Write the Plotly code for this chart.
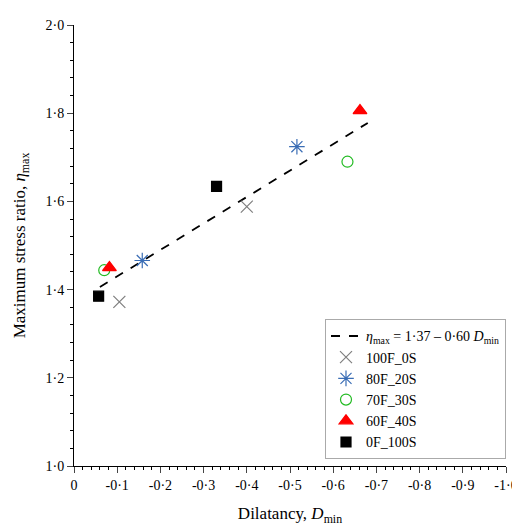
import plotly.graph_objects as go

# data
series_names = ["100F_0S", "80F_20S", "70F_30S", "60F_40S", "0F_100S"]
d_min = [[-0.105, -0.40], [-0.158, -0.516], [-0.07, -0.633], [-0.082, -0.662], [-0.057, -0.33]]
eta_max = [[1.372, 1.588], [1.466, 1.724], [1.444, 1.69], [1.45, 1.806], [1.385, 1.634]]
fit_d = [-0.06, -0.68]
fit_a, fit_b = 1.37, -0.60

symbols = ["x-thin-open", "asterisk-open", "circle-open", "triangle-up", "square"]
colors = ["#7f7f7f", "#3a6db5", "#22bb22", "#ff0000", "#000000"]
sizes = [12, 13, 11, 12, 10]

fig = go.Figure()
fig.add_trace(go.Scatter(
    x=fit_d, y=[fit_a + fit_b * d for d in fit_d], mode="lines",
    line=dict(color="black", dash="dash", width=1.8),
    name="<i>η</i><sub>max</sub> = 1·37 – 0·60 <i>D</i><sub>min</sub>"))
for name, xs, ys, sym, c, s in zip(series_names, d_min, eta_max, symbols, colors, sizes):
    fig.add_trace(go.Scatter(
        x=xs, y=ys, mode="markers", name=name,
        marker=dict(symbol=sym, color=c, size=s, line=dict(color=c, width=1.2))))

xt = [0, -0.1, -0.2, -0.3, -0.4, -0.5, -0.6, -0.7, -0.8, -0.9, -1.0]
xl = ["0"] + [("%.1f" % v).replace(".", "·") for v in xt[1:]]
yt = [1.0, 1.2, 1.4, 1.6, 1.8, 2.0]
yl = [("%.1f" % v).replace(".", "·") for v in yt]

font = dict(family="Liberation Serif", size=15, color="black")
fig.update_layout(
    width=520, height=525, margin=dict(l=66, r=14, t=10, b=67),
    paper_bgcolor="white", plot_bgcolor="white", font=font,
    xaxis=dict(range=[0, -1.0], tickvals=xt, ticktext=xl, ticks="outside",
               showline=True, linecolor="black", showgrid=False, zeroline=False,
               ticklen=6, tickfont=dict(family="Liberation Serif", size=14),
               minor=dict(dtick=0.02, ticks="outside", ticklen=3, tickcolor="black"),
               title=dict(text="Dilatancy, <i>D</i><sub>min</sub>",
                          font=dict(family="Liberation Serif", size=17))),
    yaxis=dict(range=[1.0, 2.0], tickvals=yt, ticktext=yl, ticks="outside",
               showline=True, linecolor="black", showgrid=False, zeroline=False,
               ticklen=6, tickfont=dict(family="Liberation Serif", size=14),
               minor=dict(dtick=0.04, ticks="outside", ticklen=3, tickcolor="black"),
               title=dict(text="Maximum stress ratio, <i>η</i><sub>max</sub>",
                          font=dict(family="Liberation Serif", size=17))),
    legend=dict(x=1.0, y=0.015, xanchor="right", yanchor="bottom",
                bordercolor="#aaaaaa", borderwidth=1, bgcolor="white",
                font=dict(family="Liberation Serif", size=14), tracegroupgap=0),
)
fig.write_html("out.html")
